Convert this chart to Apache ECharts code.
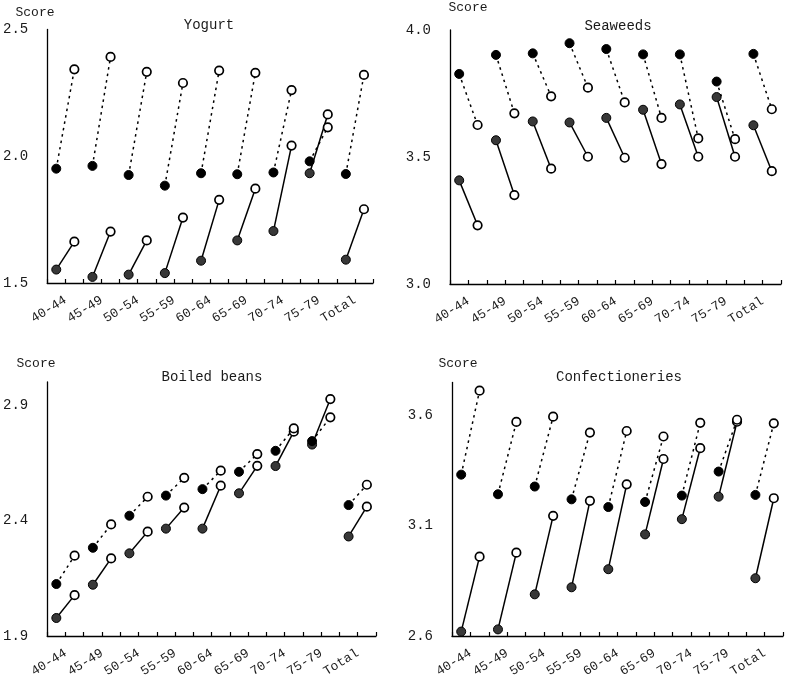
<!DOCTYPE html>
<html><head><meta charset="utf-8">
<script src="https://cdn.jsdelivr.net/npm/echarts@6/dist/echarts.min.js"></script>
<style>html,body{margin:0;padding:0;background:#fff}#c{width:785px;height:680px}</style>
</head><body><div id="c"></div>
<script>
const ageGroups = ['40-44','45-49','50-54','55-59','60-64','65-69','70-74','75-79','Total'];
const panelTitles = ['Yogurt','Seaweeds','Boiled beans','Confectioneries'];
const yAxisName = 'Score';

const yogurtSolidStart  = [1.553,1.524,1.533,1.539,1.588,1.668,1.705,1.933,1.592];
const yogurtSolidEnd    = [1.663,1.703,1.668,1.758,1.828,1.872,2.042,2.165,1.791];
const yogurtDottedStart = [1.951,1.962,1.926,1.884,1.933,1.929,1.936,1.980,1.930];
const yogurtDottedEnd   = [2.343,2.392,2.333,2.289,2.338,2.329,2.261,2.114,2.321];

const seaweedsSolidStart  = [3.408,3.566,3.640,3.636,3.654,3.686,3.707,3.736,3.625];
const seaweedsSolidEnd    = [3.231,3.350,3.454,3.501,3.497,3.472,3.501,3.501,3.444];
const seaweedsDottedStart = [3.827,3.902,3.908,3.948,3.925,3.904,3.904,3.797,3.906];
const seaweedsDottedEnd   = [3.626,3.672,3.739,3.773,3.715,3.654,3.573,3.570,3.688];

const beansSolidStart  = [1.978,2.122,2.258,2.365,2.365,2.518,2.636,2.729,2.331];
const beansSolidEnd    = [2.077,2.236,2.352,2.456,2.551,2.637,2.785,2.926,2.460];
const beansDottedStart = [2.125,2.282,2.421,2.508,2.536,2.611,2.702,2.744,2.467];
const beansDottedEnd   = [2.248,2.383,2.503,2.585,2.616,2.688,2.799,2.847,2.555];

const confSolidStart  = [2.620,2.630,2.789,2.821,2.903,3.061,3.130,3.232,2.862];
const confSolidEnd    = [2.960,2.978,3.145,3.213,3.288,3.403,3.452,3.572,3.225];
const confDottedStart = [3.332,3.243,3.278,3.220,3.185,3.208,3.237,3.346,3.240];
const confDottedEnd   = [3.713,3.571,3.595,3.523,3.530,3.505,3.567,3.581,3.565];

const yMins = [1.5, 3.0, 1.9, 2.6];
const yMaxs = [2.5, 4.0, 3.0, 3.75];
const yInterval = 0.5;

const panelData = [
  [yogurtSolidStart, yogurtSolidEnd, yogurtDottedStart, yogurtDottedEnd],
  [seaweedsSolidStart, seaweedsSolidEnd, seaweedsDottedStart, seaweedsDottedEnd],
  [beansSolidStart, beansSolidEnd, beansDottedStart, beansDottedEnd],
  [confSolidStart, confSolidEnd, confDottedStart, confDottedEnd]
];

// layout (pixels)
const grids = [
  {left:42,  top:29.5, width:331, height:253.5},
  {left:450, top:30,   width:331, height:254},
  {left:43,  top:382,  width:333, height:254},
  {left:452, top:382.5,width:331, height:253.5}
];
const titlePos = [[209,25],[618,26],[212,377],[619,377]];
const scorePos = [[35,13],[468,8],[36,364],[458,364]];

const FONT = '"Liberation Mono", monospace';
const TXT = '#1a1a1a';

const slots = [];
ageGroups.forEach(g => { slots.push(g + ' a'); slots.push(g + ' b'); });

const option = {
  animation: false,
  backgroundColor: '#fff',
  grid: grids.map(g => Object.assign({containLabel:false}, g)),
  xAxis: [],
  yAxis: [],
  series: [],
  graphic: []
};

grids.forEach((g, i) => {
  option.xAxis.push({
    type:'category', gridIndex:i, position:'bottom', data:slots, boundaryGap:true,
    axisLine:{show:true, lineStyle:{color:'#000', width:1.3}},
    axisTick:{show:true, inside:true, length:4, interval:0, lineStyle:{color:'#000', width:1.2}},
    axisLabel:{show:false}, splitLine:{show:false}
  });
  option.xAxis.push({
    type:'category', gridIndex:i, position:'bottom', data:ageGroups, boundaryGap:true,
    axisLine:{show:false}, axisTick:{show:false},
    axisLabel:{show:true, interval:0, rotate:32, margin:16, fontFamily:FONT, fontSize:13, color:TXT},
    splitLine:{show:false}
  });
  option.yAxis.push({
    type:'value', gridIndex:i, min:yMins[i], max:yMaxs[i], interval:yInterval,
    axisLine:{show:true, lineStyle:{color:'#000', width:1.3}},
    axisTick:{show:false},
    splitLine:{show:false},
    axisLabel:{show:true, margin:19, fontFamily:FONT, fontSize:14, color:TXT,
      showMaxLabel: (i < 2), formatter: v => v.toFixed(1)}
  });
  option.graphic.push({type:'text', x:titlePos[i][0], y:titlePos[i][1],
    style:{text:panelTitles[i], fontFamily:FONT, fontSize:14, fill:TXT,
      textAlign:'center', textVerticalAlign:'middle', align:'center', verticalAlign:'middle'}});
  option.graphic.push({type:'text', x:scorePos[i][0], y:scorePos[i][1],
    style:{text:yAxisName, fontFamily:FONT, fontSize:13, fill:TXT,
      textAlign:'center', textVerticalAlign:'middle', align:'center', verticalAlign:'middle'}});

  const [sS, sE, dS, dE] = panelData[i];
  const groups = [
    {start:sS, end:sE, dashed:false, fill:'#383838'},
    {start:dS, end:dE, dashed:true, fill:'#000'}
  ];
  groups.forEach(gr => {
    ageGroups.forEach((ag, k) => {
      option.series.push({
        type:'line', xAxisIndex:2*i, yAxisIndex:i,
        symbol:'circle', showSymbol:true, z: gr.dashed ? 3 : 2,
        lineStyle:{color:'#000', width:1.5, type: gr.dashed ? [2.5,4] : 'solid'},
        data:[
          {value:[2*k, gr.start[k]], symbolSize:9, itemStyle:{color:gr.fill, borderColor:'#000', borderWidth:1}},
          {value:[2*k+1, gr.end[k]], symbolSize:8.5, itemStyle:{color:'#fff', borderColor:'#000', borderWidth:1.7}}
        ],
        emphasis:{disabled:true}
      });
    });
  });
});

const chart = echarts.init(document.getElementById('c'), null, {renderer:'canvas'});
chart.setOption(option);
</script>
</body></html>
